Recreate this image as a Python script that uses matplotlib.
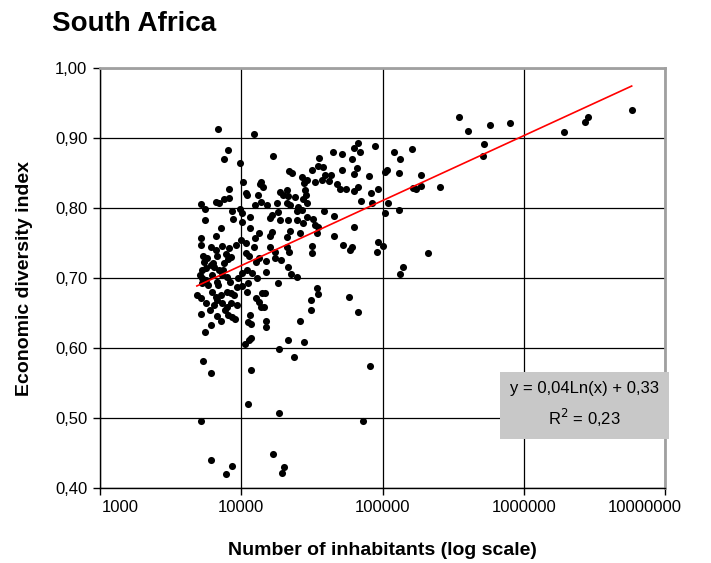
import numpy as np
import matplotlib
matplotlib.use("Agg")
import matplotlib.pyplot as plt
import matplotlib.transforms as mtransforms

plt.rcParams['font.family'] = ['Liberation Sans', 'DejaVu Sans']

# Population (number of inhabitants) and economic diversity index per town
population = [
    6850, 12380, 8075, 7560, 9835, 10335, 13900, 14360, 13670, 10860, 11040, 13230,
    8210, 8210, 7560, 6965, 6625, 5180, 5530, 5530, 8625, 8770, 9835, 10165, 10165,
    11590, 12590, 13900, 7195, 6625, 5180, 5180, 11590, 13450, 12590, 10000, 10860,
    9210, 7315, 8210, 7815, 8485, 6625, 6740, 5715, 5445, 6105, 6410, 7560, 8075,
    11400, 12380, 13450, 10860, 12800, 11040, 10165, 11980, 11220, 13010, 5265, 5090,
    5623, 6965, 7315, 7943, 6210, 5623, 6740, 5265, 4850, 5180, 6210, 6625, 7195,
    7943, 8485, 9365, 10165, 11040, 8485, 9365, 12800, 14130, 13450, 6410, 7315, 6740,
    5300, 5800, 6300, 6900, 7400, 8300, 5600, 6000, 8900, 7700, 9500, 6100, 5400,
    # 15 000 - 25 000
    16650, 21660, 22760, 18680, 20960, 21310, 23920, 19630, 17780, 15340, 20960, 22020,
    25120, 24720, 18070, 16380, 15850, 18680, 21310, 24720, 16380, 15850, 22020, 20960,
    15850, 17200, 21660, 15090, 17200, 18990, 21310, 15090, 22390, 24720, 18070, 14840,
    20960, 14600,
    # 25 000 - 250 000
    67350, 63100, 69590, 89130, 44670, 51800, 35480, 61020, 121300, 162100, 133600,
    31620, 34900, 37890, 51800, 63100, 66250, 39160, 43210, 41810, 80750, 108400,
    104900, 131500, 187500, 26830, 29120, 27730, 33220, 37270, 47700, 50120, 55330,
    63100, 67350, 83440, 93640, 84830, 70800, 110100, 104900, 131500, 164800, 173000,
    187500, 254700, 27280, 28180, 28650, 29120, 26830, 38520, 45410, 29120, 32150,
    27280, 34900, 63100, 45410, 52660, 61020, 59050, 31620, 31620, 93640, 100000,
    92110, 210000, 140300, 133600, 34330, 34900, 31110, 58090, 25960, 34330, 33220,
    # lower values
    5180, 5530, 6105, 6740, 7195, 8075, 8625, 9060, 11590, 11220, 11785, 15090, 15090,
    25960, 10680, 11400, 11785, 21310, 18370, 23520, 27730, 5350, 6105, 11785, 11220,
    18370, 5180, 16650, 19950, 19310, 6105, 8625, 7815, 13900, 7943, 31110, 67350,
    82100, 73140,
    # large cities
    345300, 405500, 578100, 798000, 524800, 516400, 1932000, 2727000, 2864000, 5808000,
]
diversity = [
    0.913, 0.906, 0.883, 0.870, 0.864, 0.837, 0.837, 0.830, 0.834, 0.821, 0.819, 0.819,
    0.827, 0.814, 0.813, 0.807, 0.809, 0.806, 0.799, 0.783, 0.796, 0.784, 0.799, 0.793, 0.780,
    0.787, 0.804, 0.809, 0.771, 0.760, 0.757, 0.747, 0.771, 0.764, 0.757, 0.754, 0.750,
    0.747, 0.746, 0.743, 0.734, 0.730, 0.740, 0.731, 0.729, 0.723, 0.719, 0.716, 0.721, 0.727,
    0.731, 0.744, 0.729, 0.736, 0.723, 0.711, 0.707, 0.707, 0.693, 0.700, 0.711, 0.704,
    0.714, 0.711, 0.704, 0.701, 0.704, 0.697, 0.694, 0.693, 0.676, 0.671, 0.680, 0.673, 0.676,
    0.680, 0.679, 0.687, 0.689, 0.680, 0.664, 0.661, 0.671, 0.679, 0.666, 0.661, 0.664, 0.669,
    0.700, 0.690, 0.722, 0.690, 0.712, 0.695, 0.665, 0.655, 0.675, 0.655, 0.700, 0.745, 0.732,
    0.874, 0.853, 0.850, 0.823, 0.826, 0.817, 0.816, 0.819, 0.807, 0.804, 0.807, 0.804,
    0.801, 0.796, 0.794, 0.790, 0.786, 0.783, 0.783, 0.783, 0.766, 0.760, 0.767, 0.759,
    0.744, 0.737, 0.737, 0.724, 0.729, 0.726, 0.716, 0.709, 0.706, 0.701, 0.693, 0.679,
    0.744, 0.659,
    0.893, 0.886, 0.880, 0.889, 0.880, 0.877, 0.871, 0.870, 0.880, 0.884, 0.870,
    0.854, 0.860, 0.859, 0.854, 0.849, 0.857, 0.847, 0.847, 0.839, 0.846, 0.854,
    0.851, 0.850, 0.847, 0.844, 0.840, 0.836, 0.837, 0.840, 0.834, 0.827, 0.827,
    0.824, 0.830, 0.821, 0.827, 0.807, 0.810, 0.807, 0.793, 0.797, 0.829, 0.827,
    0.831, 0.830, 0.813, 0.826, 0.819, 0.807, 0.797, 0.796, 0.789, 0.787, 0.784,
    0.779, 0.773, 0.773, 0.760, 0.747, 0.744, 0.740, 0.746, 0.736, 0.751, 0.746,
    0.737, 0.736, 0.716, 0.706, 0.686, 0.677, 0.669, 0.673, 0.764, 0.764, 0.776,
    0.649, 0.623, 0.633, 0.646, 0.639, 0.647, 0.644, 0.641, 0.647, 0.637, 0.634, 0.639, 0.630,
    0.639, 0.606, 0.611, 0.614, 0.611, 0.599, 0.587, 0.609, 0.581, 0.564, 0.569, 0.520,
    0.507, 0.496, 0.449, 0.430, 0.421, 0.440, 0.431, 0.420, 0.659, 0.659, 0.654, 0.651,
    0.574, 0.496,
    0.930, 0.910, 0.919, 0.921, 0.891, 0.874, 0.909, 0.923, 0.930, 0.940,
]

x_ticks = [1000, 10000, 100000, 1000000, 10000000]
x_tick_labels = ["1000", "10000", "100000", "1000000", "10000000"]
y_ticks = [0.40, 0.50, 0.60, 0.70, 0.80, 0.90, 1.00]
y_tick_labels = ["0,40", "0,50", "0,60", "0,70", "0,80", "0,90", "1,00"]

x = np.array(population, dtype=float)
y = np.array(diversity, dtype=float)

fig = plt.figure(figsize=(7.11, 5.63), dpi=100)
ax = fig.add_axes([100/711, 1-488/563, 565/711, 420/563])

ax.set_xscale('log')
ax.set_xlim(1000, 10000000)
ax.set_ylim(0.40, 1.00)

ax.set_xticks(x_ticks)
ax.set_xticklabels(x_tick_labels, fontsize=12)
ax.xaxis.set_minor_locator(matplotlib.ticker.NullLocator())
ax.set_yticks(y_ticks)
ax.set_yticklabels(y_tick_labels, fontsize=12)
ax.tick_params(axis='both', direction='out', length=5, width=1, colors='black', pad=4)

# Excel-style: first and last x labels pushed inward
xlabels = ax.get_xticklabels()
xlabels[0].set_transform(xlabels[0].get_transform() +
                         mtransforms.ScaledTranslation(0.20, 0, fig.dpi_scale_trans))
xlabels[-1].set_transform(xlabels[-1].get_transform() +
                          mtransforms.ScaledTranslation(-0.20, 0, fig.dpi_scale_trans))

ax.grid(True, which='major', color='black', linewidth=0.9)
ax.set_axisbelow(True)
for side in ['left', 'bottom']:
    ax.spines[side].set_color('black')
    ax.spines[side].set_linewidth(1.0)
for side in ['right', 'top']:
    ax.spines[side].set_color('#a0a0a0')
    ax.spines[side].set_linewidth(2.0)

ax.scatter(x, y, s=26, color='black', zorder=3, linewidths=0)

# logarithmic trend line fitted to the data
b, a = np.polyfit(np.log(x), y, 1)
xs = np.logspace(np.log10(x.min()), np.log10(x.max()), 200)
ax.plot(xs, b*np.log(xs) + a, color='red', linewidth=1.2, zorder=4)

ax.text(0.858, 0.198, "y = 0,04Ln(x) + 0,33\nR$^2$ = 0,23", transform=ax.transAxes,
        ha='center', va='center', fontsize=12, linespacing=1.6, zorder=5,
        bbox=dict(boxstyle='square,pad=0.6', facecolor='#c8c8c8', edgecolor='none'))

fig.text(52/711, 1-31/563, "South Africa", fontsize=20, fontweight='bold', ha='left', va='baseline')
ax.set_xlabel("Number of inhabitants (log scale)", fontsize=14, fontweight='bold', labelpad=19)
ax.set_ylabel("Economic diversity index", fontsize=14, fontweight='bold', labelpad=16)

fig.savefig("out.png", dpi=100)
